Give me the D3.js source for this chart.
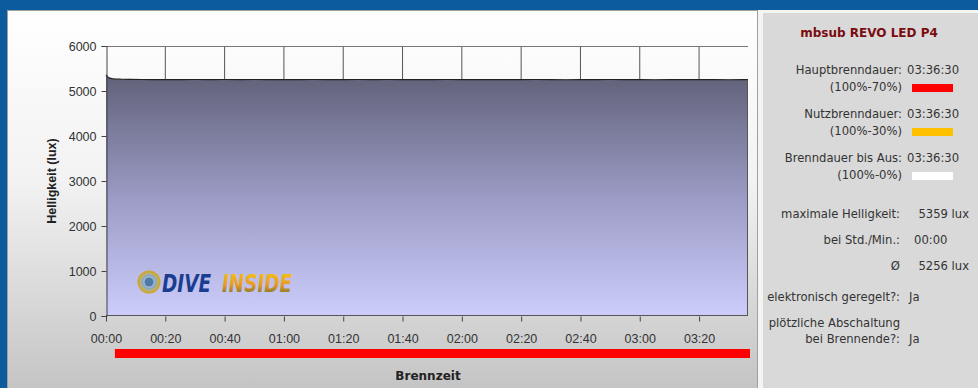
<!DOCTYPE html>
<html><head><meta charset="utf-8">
<script src="https://cdn.jsdelivr.net/npm/d3@7"></script>
<style>body{margin:0;background:#0b5b9e;}svg{display:block;}</style>
</head><body>
<svg id="c" width="978" height="388"></svg>
<script>
// ---- data ----
const timesMin = [0,0.5,1,2,3,5,8,12,16,20,25,30,35,40,45,50,55,60,65,70,75,80,85,90,95,100,105,110,115,120,125,130,135,140,145,150,155,160,165,170,175,180,185,190,195,200,205,210,215,216.5];
const luxValues = [5359,5320,5290,5275,5268,5262,5258,5256,5255,5255,5254,5256,5253,5255,5254,5256,5252,5254,5253,5255,5252,5254,5256,5253,5255,5252,5254,5253,5256,5252,5254,5255,5253,5251,5255,5253,5250,5254,5252,5255,5251,5253,5250,5254,5252,5251,5253,5250,5252,5252];
const yTicks = [0,1000,2000,3000,4000,5000,6000];
const xTicksMin = [0,20,40,60,80,100,120,140,160,180,200];
const xTickLabels = ["00:00","00:20","00:40","01:00","01:20","01:40","02:00","02:20","02:40","03:00","03:20"];
const burnEndMin = 216.5;
const mainBarStartMin = 3;
const infoTitle = "mbsub REVO LED P4";
const infoRows = [
  {label:"Hauptbrenndauer:", value:"03:36:30", sub:"(100%-70%)", color:"#ff0000"},
  {label:"Nutzbrenndauer:", value:"03:36:30", sub:"(100%-30%)", color:"#ffc000"},
  {label:"Brenndauer bis Aus:", value:"03:36:30", sub:"(100%-0%)", color:"#ffffff"}
];
const statRows = [
  {label:"maximale Helligkeit:", value:"5359 lux", anchor:"end"},
  {label:"bei Std./Min.:", value:"00:00", anchor:"start"},
  {label:"Ø", value:"5256 lux", anchor:"end"}
];

const svg = d3.select("#c");
const defs = svg.append("defs");

const g1 = defs.append("linearGradient").attr("id","panelBg").attr("x1",0).attr("y1",0).attr("x2",0).attr("y2",1);
g1.append("stop").attr("offset","0%").attr("stop-color","#ffffff");
g1.append("stop").attr("offset","45%").attr("stop-color","#f2f2f2");
g1.append("stop").attr("offset","100%").attr("stop-color","#c4c4c4");

const g2 = defs.append("linearGradient").attr("id","areaFill").attr("x1",0).attr("y1",0).attr("x2",0).attr("y2",1);
g2.append("stop").attr("offset","0%").attr("stop-color","#616179");
g2.append("stop").attr("offset","50%").attr("stop-color","#9a9ac4");
g2.append("stop").attr("offset","100%").attr("stop-color","#cdcdfc");

const g3 = defs.append("radialGradient").attr("id","logoC");
g3.append("stop").attr("offset","0%").attr("stop-color","#ffffff");
g3.append("stop").attr("offset","60%").attr("stop-color","#8aa6c8");
g3.append("stop").attr("offset","100%").attr("stop-color","#d9b83a");

const g4 = defs.append("linearGradient").attr("id","insideFill").attr("x1",0).attr("y1",0).attr("x2",0).attr("y2",1);
g4.append("stop").attr("offset","0%").attr("stop-color","#f8cc10");
g4.append("stop").attr("offset","55%").attr("stop-color","#e89a20");
g4.append("stop").attr("offset","100%").attr("stop-color","#4f6a3a");

// backgrounds
svg.append("rect").attr("x",0).attr("y",0).attr("width",978).attr("height",388).attr("fill","#0b5b9e");
svg.append("rect").attr("x",7).attr("y",10).attr("width",971).attr("height",378).attr("fill","#f4f4f4");
svg.append("rect").attr("x",7.5).attr("y",10.5).attr("width",750).attr("height",380).attr("fill","url(#panelBg)").attr("stroke","#a0a0a0");
svg.append("rect").attr("x",763).attr("y",13).attr("width",215).attr("height",375).attr("fill","#d9d9d9");

// scales
const x = d3.scaleLinear().domain([0, burnEndMin]).range([106, 748]);
const y = d3.scaleLinear().domain([0, 6000]).range([316, 46]);

// vertical gridlines
svg.append("g").selectAll("line").data(xTicksMin.slice(1)).join("line")
  .attr("x1",d=>x(d)).attr("x2",d=>x(d)).attr("y1",y(6000)).attr("y2",y(5000))
  .attr("stroke","#555").attr("stroke-width",1);
// top line
svg.append("line").attr("x1",x(0)).attr("x2",x(burnEndMin)).attr("y1",y(6000)+0.5).attr("y2",y(6000)+0.5).attr("stroke","#777");

const data = timesMin.map((t,i)=>({t, v:luxValues[i]}));
const area = d3.area().x(d=>x(d.t)).y0(y(0)).y1(d=>y(d.v));
svg.append("path").datum(data).attr("d",area).attr("fill","url(#areaFill)").attr("stroke","none");
svg.append("path").datum(data).attr("d",d3.line().x(d=>x(d.t)).y(d=>y(d.v)))
  .attr("fill","none").attr("stroke","#222").attr("stroke-width",1.2);
svg.append("line").attr("x1",x(burnEndMin)-0.5).attr("x2",x(burnEndMin)-0.5).attr("y1",y(luxValues[luxValues.length-1])).attr("y2",y(0))
  .attr("stroke","#555");
svg.append("line").attr("x1",x(0)).attr("x2",x(burnEndMin)).attr("y1",y(0)-0.5).attr("y2",y(0)-0.5).attr("stroke","#555");

// axes
const tickFont = "Liberation Sans, Arial, sans-serif";
const yAxis = svg.append("g").attr("transform","translate(106.5,0)")
  .call(d3.axisLeft(y).tickValues(yTicks).tickSize(5).tickPadding(5).tickFormat(d3.format("d")));
const xAxis = svg.append("g").attr("transform","translate(0,316.5)")
  .call(d3.axisBottom(x).tickValues(xTicksMin).tickSize(5).tickPadding(13).tickFormat((d,i)=>xTickLabels[i]));
[yAxis,xAxis].forEach(a=>{
  a.select(".domain").attr("stroke","#444");
  a.selectAll(".tick line").attr("stroke","#444");
  a.selectAll("text").attr("fill","#333").style("font-family",tickFont).style("font-size","12.5px");
});
xAxis.select(".domain").remove();

// axis titles
svg.append("text").attr("transform","translate(56,181) rotate(-90)").attr("text-anchor","middle")
  .style("font-family",tickFont).style("font-weight","bold").style("font-size","12.5px").attr("fill","#222")
  .text("Helligkeit (lux)");
svg.append("text").attr("x",428).attr("y",380).attr("text-anchor","middle")
  .style("font-family","DejaVu Sans, sans-serif").style("font-weight","bold").style("font-size","12px").attr("fill","#222")
  .text("Brennzeit");

// main burn bar
svg.append("rect").attr("x",x(mainBarStartMin)).attr("y",349).attr("width",x(burnEndMin)+2-x(mainBarStartMin)).attr("height",9).attr("fill","#ff0000");

// logo
const logo = svg.append("g");
logo.append("circle").attr("cx",149).attr("cy",282).attr("r",10.5).attr("fill","url(#logoC)").attr("stroke","#c9a838").attr("stroke-width",2);
logo.append("circle").attr("cx",149).attr("cy",282).attr("r",4.5).attr("fill","#4d7aa8");
logo.append("text").attr("x",162).attr("y",292).attr("textLength",49).attr("lengthAdjust","spacingAndGlyphs")
  .style("font-family","DejaVu Sans, sans-serif").style("font-weight","900").style("font-style","italic").style("font-size","25px")
  .attr("fill","#1b3d8f").text("DIVE");
logo.append("text").attr("x",222).attr("y",292).attr("textLength",70).attr("lengthAdjust","spacingAndGlyphs")
  .style("font-family","DejaVu Sans, sans-serif").style("font-weight","900").style("font-style","italic").style("font-size","25px")
  .attr("fill","url(#insideFill)").text("INSIDE");

// info panel
const infoFont = "DejaVu Sans, sans-serif";
const fs = "11.6px";
svg.append("text").attr("x",869).attr("y",37).attr("text-anchor","middle")
  .style("font-family",infoFont).style("font-weight","bold").style("font-size","12px").attr("fill","#7a0c10").text(infoTitle);
const rowY = [74, 118, 162];
infoRows.forEach((r,i)=>{
  const yy = rowY[i];
  svg.append("text").attr("x",902).attr("y",yy).attr("text-anchor","end").style("font-family",infoFont).style("font-size",fs).attr("fill","#333").text(r.label);
  svg.append("text").attr("x",907).attr("y",yy).style("font-family",infoFont).style("font-size",fs).attr("fill","#333").text(r.value);
  svg.append("text").attr("x",902).attr("y",yy+17).attr("text-anchor","end").style("font-family",infoFont).style("font-size",fs).attr("fill","#333").text(r.sub);
  svg.append("rect").attr("x",912).attr("y",yy+10).attr("width",41).attr("height",8).attr("fill",r.color);
});
const statY = [218, 244, 270];
statRows.forEach((r,i)=>{
  svg.append("text").attr("x",900).attr("y",statY[i]).attr("text-anchor","end").style("font-family",infoFont).style("font-size",fs).attr("fill","#333").text(r.label);
  svg.append("text").attr("x",r.anchor==="end"?969:914).attr("y",statY[i]).attr("text-anchor",r.anchor).style("font-family",infoFont).style("font-size",fs).attr("fill","#333").text(r.value);
});
svg.append("text").attr("x",900).attr("y",301).attr("text-anchor","end").style("font-family",infoFont).style("font-size",fs).attr("fill","#333").text("elektronisch geregelt?:");
svg.append("text").attr("x",909).attr("y",301).style("font-family",infoFont).style("font-size",fs).attr("fill","#333").text("Ja");
svg.append("text").attr("x",900).attr("y",327).attr("text-anchor","end").style("font-family",infoFont).style("font-size",fs).attr("fill","#333").text("plötzliche Abschaltung");
svg.append("text").attr("x",900).attr("y",343).attr("text-anchor","end").style("font-family",infoFont).style("font-size",fs).attr("fill","#333").text("bei Brennende?:");
svg.append("text").attr("x",909).attr("y",343).style("font-family",infoFont).style("font-size",fs).attr("fill","#333").text("Ja");
</script>
</body></html>
